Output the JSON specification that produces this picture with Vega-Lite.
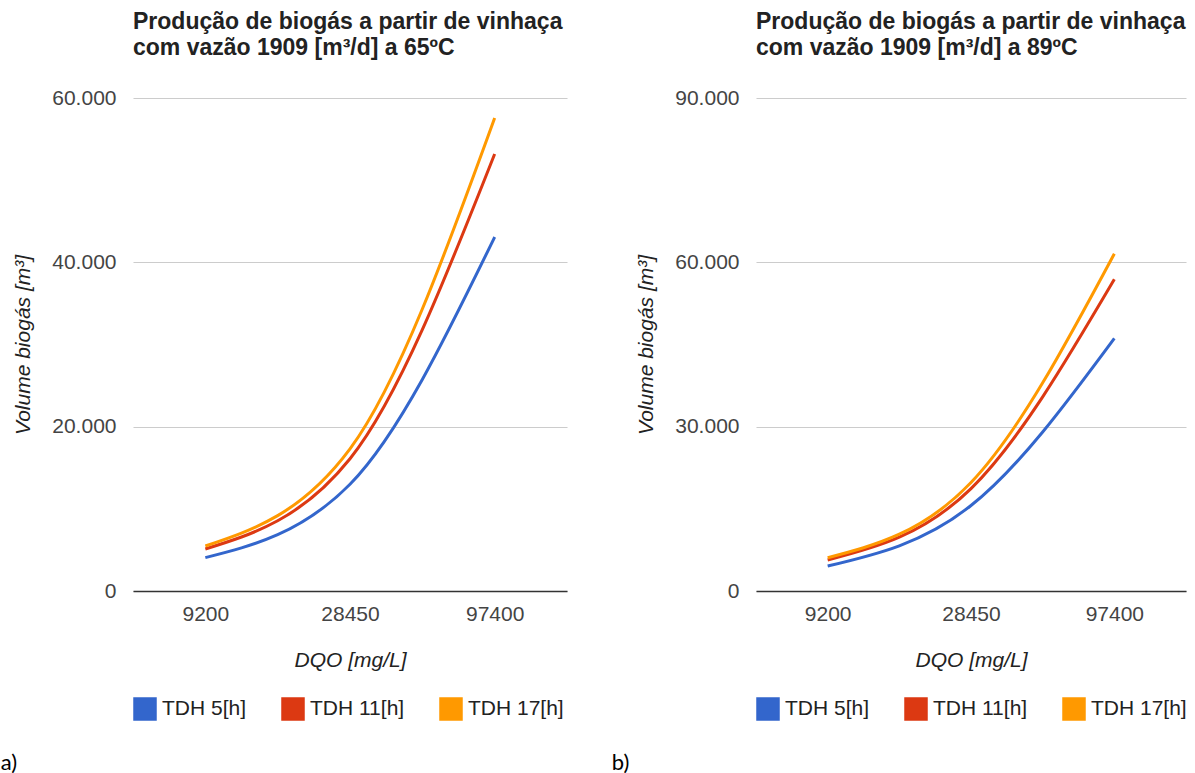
{
  "$schema": "https://vega.github.io/schema/vega-lite/v6.json",
  "background": "white",
  "padding": {"left": 0, "top": 11, "right": 5, "bottom": 0},
  "datasets": {
    "bio": [
      {"panel": "a", "dqo": "9200", "serie": "TDH 5[h]", "volume": 4060},
      {"panel": "a", "dqo": "28450", "serie": "TDH 5[h]", "volume": 13000},
      {"panel": "a", "dqo": "97400", "serie": "TDH 5[h]", "volume": 43080},
      {"panel": "a", "dqo": "9200", "serie": "TDH 11[h]", "volume": 5110},
      {"panel": "a", "dqo": "28450", "serie": "TDH 11[h]", "volume": 16100},
      {"panel": "a", "dqo": "97400", "serie": "TDH 11[h]", "volume": 53190},
      {"panel": "a", "dqo": "9200", "serie": "TDH 17[h]", "volume": 5480},
      {"panel": "a", "dqo": "28450", "serie": "TDH 17[h]", "volume": 17300},
      {"panel": "a", "dqo": "97400", "serie": "TDH 17[h]", "volume": 57570},
      {"panel": "b", "dqo": "9200", "serie": "TDH 5[h]", "volume": 4560},
      {"panel": "b", "dqo": "28450", "serie": "TDH 5[h]", "volume": 15600},
      {"panel": "b", "dqo": "97400", "serie": "TDH 5[h]", "volume": 46130},
      {"panel": "b", "dqo": "9200", "serie": "TDH 11[h]", "volume": 5660},
      {"panel": "b", "dqo": "28450", "serie": "TDH 11[h]", "volume": 18700},
      {"panel": "b", "dqo": "97400", "serie": "TDH 11[h]", "volume": 56900},
      {"panel": "b", "dqo": "9200", "serie": "TDH 17[h]", "volume": 6080},
      {"panel": "b", "dqo": "28450", "serie": "TDH 17[h]", "volume": 19800},
      {"panel": "b", "dqo": "97400", "serie": "TDH 17[h]", "volume": 61580}
    ]
  },
  "hconcat": [
    {
      "title": {"text": "a)", "orient": "bottom", "anchor": "start", "frame": "bounds", "font": "Lato", "fontSize": 22, "fontWeight": "normal", "color": "#000", "dx": -12, "offset": 30},
      "vconcat": [
        {
          "data": {"name": "bio"},
          "transform": [{"filter": "datum.panel == 'a'"}],
          "width": 434,
          "height": 493,
          "title": {"text": ["Produção de biogás a partir de vinhaça", "com vazão 1909 [m³/d] a 65ºC"], "anchor": "start", "frame": "group", "font": "Liberation Sans", "fontSize": 23, "fontWeight": "bold", "color": "#222", "lineHeight": 26, "offset": 27},
          "mark": {"type": "line", "interpolate": "monotone", "strokeWidth": 3},
          "encoding": {
            "x": {"field": "dqo", "type": "ordinal", "sort": ["9200", "28450", "97400"], "scale": {"type": "point", "padding": 0.5}, "axis": {"title": "DQO [mg/L]", "labelAngle": 0}},
            "y": {"field": "volume", "type": "quantitative", "scale": {"domain": [0, 60000]}, "axis": {"title": "Volume biogás [m³]", "values": [0, 20000, 40000, 60000], "labelExpr": "replace(format(datum.value, ','), ',', '.')"}},
            "color": {"field": "serie", "type": "nominal", "sort": ["TDH 5[h]", "TDH 11[h]", "TDH 17[h]"], "scale": {"domain": ["TDH 5[h]", "TDH 11[h]", "TDH 17[h]"], "range": ["#3366cc", "#dc3912", "#ff9900"]},
              "legend": {"title": null, "encode": {"symbols": {"update": {"fill": {"signal": "datum.value == 'TDH 5[h]' ? '#3366cc' : datum.value == 'TDH 11[h]' ? '#dc3912' : '#ff9900'"}, "stroke": {"value": "transparent"}, "fillOpacity": {"value": 1}}}}}}
          }
        }
      ]
    },
    {
      "title": {"text": "b)", "orient": "bottom", "anchor": "start", "frame": "bounds", "font": "Lato", "fontSize": 22, "fontWeight": "normal", "color": "#000", "dx": -24, "offset": 30},
      "vconcat": [
        {
          "data": {"name": "bio"},
          "transform": [{"filter": "datum.panel == 'b'"}],
          "width": 430,
          "height": 493,
          "title": {"text": ["Produção de biogás a partir de vinhaça", "com vazão 1909 [m³/d] a 89ºC"], "anchor": "start", "frame": "group", "font": "Liberation Sans", "fontSize": 23, "fontWeight": "bold", "color": "#222", "lineHeight": 26, "offset": 27},
          "mark": {"type": "line", "interpolate": "monotone", "strokeWidth": 3},
          "encoding": {
            "x": {"field": "dqo", "type": "ordinal", "sort": ["9200", "28450", "97400"], "scale": {"type": "point", "padding": 0.5}, "axis": {"title": "DQO [mg/L]", "labelAngle": 0}},
            "y": {"field": "volume", "type": "quantitative", "scale": {"domain": [0, 90000]}, "axis": {"title": "Volume biogás [m³]", "values": [0, 30000, 60000, 90000], "labelExpr": "replace(format(datum.value, ','), ',', '.')"}},
            "color": {"field": "serie", "type": "nominal", "sort": ["TDH 5[h]", "TDH 11[h]", "TDH 17[h]"], "scale": {"domain": ["TDH 5[h]", "TDH 11[h]", "TDH 17[h]"], "range": ["#3366cc", "#dc3912", "#ff9900"]},
              "legend": {"title": null, "encode": {"symbols": {"update": {"fill": {"signal": "datum.value == 'TDH 5[h]' ? '#3366cc' : datum.value == 'TDH 11[h]' ? '#dc3912' : '#ff9900'"}, "stroke": {"value": "transparent"}, "fillOpacity": {"value": 1}}}}}}
          }
        }
      ]
    }
  ],
  "spacing": 44,
  "resolve": {"scale": {"color": "independent"}, "legend": {"color": "independent"}},
  "config": {
    "view": {"stroke": null},
    "axis": {"labelFont": "Liberation Sans", "titleFont": "Liberation Sans", "labelFontSize": 21, "titleFontSize": 21, "titleFontStyle": "italic", "titleFontWeight": "normal", "labelColor": "#444", "titleColor": "#222", "ticks": false, "tickSize": 0},
    "axisY": {"domain": false, "grid": true, "gridColor": "#ccc", "gridWidth": 1.2, "labelPadding": 17, "titlePadding": 18},
    "axisX": {"domain": true, "domainColor": "#333", "domainWidth": 1.5, "grid": false, "labelPadding": 12, "titlePadding": 25},
    "legend": {"orient": "bottom", "direction": "horizontal", "symbolType": "square", "symbolSize": 484, "labelFont": "Liberation Sans", "labelFontSize": 21, "labelColor": "#222", "labelOffset": 5, "columnPadding": 32, "offset": 27, "symbolOpacity": 1}
  }
}
